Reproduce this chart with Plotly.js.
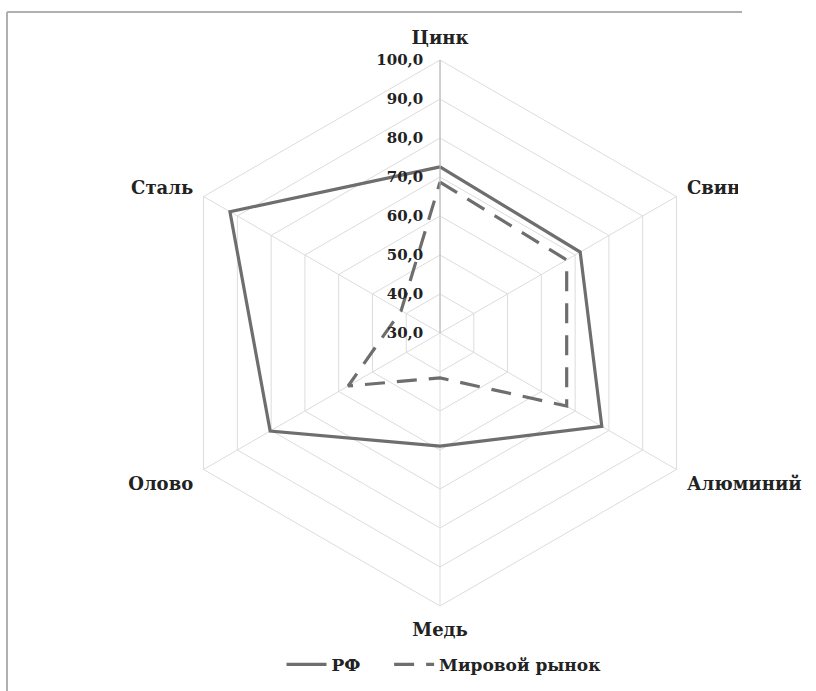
<!DOCTYPE html>
<html>
<head>
<meta charset="utf-8">
<script src="https://cdn.plot.ly/plotly-3.0.1.min.js"></script>
<style>html,body{margin:0;padding:0;background:#fff;}#chart{width:816px;height:691px;}</style>
</head>
<body>
<div id="chart"></div>
<script>
var categories = ["Цинк", "Свинец", "Алюминий", "Медь", "Олово", "Сталь"];
var rfValues = [72.6, 71.5, 77.9, 59.0, 80.3, 92.2];
var worldValues = [68.7, 67.5, 67.5, 41.5, 57.2, 41.5];
var seriesNames = ["РФ", "Мировой рынок"];
var radialTicks = [30, 40, 50, 60, 70, 80, 90, 100];
var radialTickText = ["30,0", "40,0", "50,0", "60,0", "70,0", "80,0", "90,0", "100,0"];

function closed(a) { return a.concat([a[0]]); }

var serif = "DejaVu Serif, Liberation Serif, serif";

var traces = [
  {
    type: "scatterpolar", mode: "lines", name: seriesNames[0] + "\u00a0\u00a0\u00a0\u00a0",
    r: closed(rfValues), theta: closed(categories),
    line: { color: "#6e6e6e", width: 3.2 }
  },
  {
    type: "scatterpolar", mode: "lines", name: seriesNames[1],
    r: closed(worldValues), theta: closed(categories),
    line: { color: "#6e6e6e", width: 3.2, dash: "20px,12px" }
  }
];

var layout = {
  width: 816, height: 691,
  margin: { l: 0, r: 0, t: 0, b: 0 },
  paper_bgcolor: "#ffffff",
  showlegend: true,
  legend: {
    orientation: "h", x: 0.345, xanchor: "left", y: 0.038, yanchor: "middle",
    font: { family: serif, size: 17, color: "#222", weight: "bold" },
    itemwidth: 40
  },
  polar: {
    domain: { x: [0.2047, 0.8738], y: [0.1230, 0.9132] },
    bgcolor: "#ffffff",
    gridshape: "linear",
    angularaxis: {
      rotation: 90, direction: "clockwise",
      type: "category",
      categoryarray: categories,
      showline: true, linecolor: "#dcdcdc", linewidth: 1,
      showgrid: true, gridcolor: "#dcdcdc", gridwidth: 1,
      ticks: "outside", ticklen: 8, tickcolor: "rgba(0,0,0,0)",
      tickfont: { family: serif, size: 18, color: "#222", weight: "bold" }
    },
    radialaxis: {
      range: [30, 100], angle: 90, side: "counterclockwise",
      tickmode: "array", tickvals: radialTicks, ticktext: radialTickText,
      showline: true, linecolor: "#b4b4b4", linewidth: 1,
      showgrid: true, gridcolor: "#dcdcdc", gridwidth: 1,
      ticks: "outside", ticklen: 11, tickcolor: "rgba(0,0,0,0)",
      tickangle: 90,
      tickfont: { family: serif, size: 15, color: "#222", weight: "bold" }
    }
  },
  shapes: [
    { type: "rect", xref: "paper", yref: "paper", x0: 738/816, x1: 1, y0: (691-420)/691, y1: 1,
      fillcolor: "#ffffff", line: { width: 0 }, layer: "above" },
    { type: "line", xref: "paper", yref: "paper", x0: 7/816, x1: 742/816, y0: (691-12)/691, y1: (691-12)/691,
      line: { color: "#b0b0b0", width: 2 }, layer: "above" },
    { type: "line", xref: "paper", yref: "paper", x0: 7/816, x1: 7/816, y0: 0, y1: (691-12)/691,
      line: { color: "#b0b0b0", width: 2 }, layer: "above" }
  ]
};

Plotly.newPlot("chart", traces, layout, { displayModeBar: false, staticPlot: true });
</script>
</body>
</html>
